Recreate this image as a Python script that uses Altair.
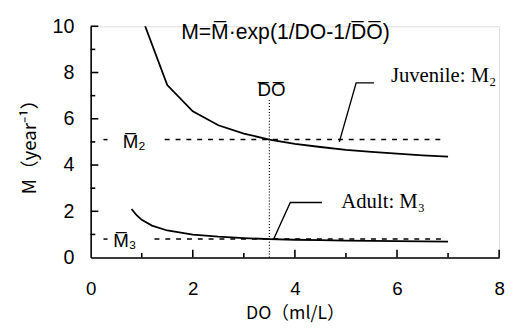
import altair as alt
import pandas as pd

# ---- data ----
do_juv = [1.0, 1.5, 2.0, 2.5, 3.0, 3.5, 4.0, 4.5, 5.0, 5.5, 6.0, 6.5, 7.0]
m_juv = [10.4, 7.46, 6.32, 5.72, 5.36, 5.10, 4.92, 4.78, 4.66, 4.57, 4.49, 4.42, 4.36]
do_adu = [0.8, 0.9, 1.0, 1.2, 1.5, 2.0, 2.5, 3.0, 3.5, 4.0, 4.5, 5.0, 5.5, 6.0, 6.5, 7.0]
m_adu = [2.10, 1.83, 1.63, 1.38, 1.17, 0.99, 0.90, 0.84, 0.80, 0.77, 0.75, 0.73, 0.72, 0.71, 0.70, 0.69]

m2_bar = 5.1
m3_bar = 0.8
do_bar = 3.5

x_ticks_major = [2, 4, 6, 8]
x_ticks_minor = [1, 3, 5, 7]
y_ticks_major = [2, 4, 6, 8, 10]
y_ticks_minor = [1, 3, 5, 7, 9]
x_labels = [0, 2, 4, 6, 8]
y_labels = [0, 2, 4, 6, 8, 10]

# ---- tables ----
curves = pd.DataFrame({
    "x": do_juv + do_adu,
    "y": m_juv + m_adu,
    "s": ["juv"] * len(do_juv) + ["adu"] * len(do_adu),
})
dashes = pd.DataFrame({
    "x": [0.25, 1.45, 0.25, 1.25],
    "x2": [0.33, 6.9, 0.33, 6.9],
    "y": [m2_bar, m2_bar, m3_bar, m3_bar],
})
vline = pd.DataFrame({"x": [do_bar], "y": [0], "y2": [6.8]})
leaders = pd.DataFrame({
    "x": [5.55, 5.2, 4.87, 4.53, 3.91, 3.58],
    "y": [7.55, 7.55, 5.0, 2.38, 2.38, 0.78],
    "s": ["j", "j", "j", "a", "a", "a"],
    "o": [0, 1, 2, 0, 1, 2],
})
xt = pd.DataFrame({"x": x_ticks_major + x_ticks_minor,
                   "y": [0] * 8, "y2": [0.34] * 4 + [0.2] * 4})
yt = pd.DataFrame({"y": y_ticks_major + y_ticks_minor,
                   "x": [0] * 10, "x2": [0.15] * 5 + [0.09] * 5})

eq_text = pd.DataFrame({
    "x": [3.815], "y": [9.72],
    "t": ["M=M\u0305\u00b7exp(1/DO-1/D\u0305O\u0305)"],
})
sans_text = pd.DataFrame({
    "x": [3.54, 0.85, 0.67],
    "y": [7.22, 5.0, 0.72],
    "t": ["D\u0305O\u0305", "M\u0305\u2082", "M\u0305\u2083"],
})
serif_text = pd.DataFrame({
    "x": [5.88, 4.91],
    "y": [7.85, 2.4],
    "t": ["Juvenile: M\u2082", "Adult: M\u2083"],
})

xscale = alt.Scale(domain=[0, 8], nice=False, zero=False)
yscale = alt.Scale(domain=[0, 10], nice=False, zero=False)
FONT = "Liberation Sans"
JFONT = "Noto Sans CJK JP"

xaxis = alt.Axis(values=x_labels, ticks=False, grid=False, domainColor="black",
                 domainWidth=1.6, labelFont=FONT, labelFontSize=19, labelColor="black",
                 labelPadding=23, labelFlush=False, title="DO\uff08ml/L\uff09", titleFont=JFONT,
                 titleFontSize=18, titleFontWeight="normal", titleColor="black",
                 titlePadding=6)
yaxis = alt.Axis(values=y_labels, ticks=False, grid=False, domainColor="black",
                 domainWidth=1.6, labelFont=FONT, labelFontSize=20, labelColor="black",
                 labelPadding=17, labelFlush=False, title="M\uff08year\u207b\u00b9\uff09",
                 titleFont=JFONT, titleFontSize=19, titleFontWeight="normal",
                 titleColor="black", titlePadding=13)


def X(f="x"):
    return alt.X(f"{f}:Q", scale=xscale, axis=xaxis)


def Y(f="y"):
    return alt.Y(f"{f}:Q", scale=yscale, axis=yaxis)


base_curves = alt.Chart(curves).mark_line(color="black", strokeWidth=1.8, clip=True).encode(
    x=X(), y=Y(), detail="s:N")
dash_layer = alt.Chart(dashes).mark_rule(color="black", strokeWidth=1.5, strokeDash=[5, 6]).encode(
    x=X(), x2="x2:Q", y=Y())
vline_layer = alt.Chart(vline).mark_rule(color="black", strokeWidth=1.2, strokeDash=[1, 2]).encode(
    x=X(), y=Y(), y2="y2:Q")
leader_layer = alt.Chart(leaders).mark_line(color="black", strokeWidth=1.4).encode(
    x=X(), y=Y(), detail="s:N", order="o:Q")
xt_layer = alt.Chart(xt).mark_rule(color="black", strokeWidth=1.6).encode(
    x=X(), y=Y(), y2="y2:Q")
yt_layer = alt.Chart(yt).mark_rule(color="black", strokeWidth=1.6).encode(
    x=X(), x2="x2:Q", y=Y())
eq_layer = alt.Chart(eq_text).mark_text(font=FONT, fontSize=21.5, color="black").encode(
    x=X(), y=Y(), text="t:N")
sans_layer = alt.Chart(sans_text).mark_text(font=FONT, fontSize=19, color="black").encode(
    x=X(), y=Y(), text="t:N")
serif_layer = alt.Chart(serif_text).mark_text(font="Liberation Serif", fontSize=21, color="black",
                                              align="left").encode(x=X(), y=Y(), text="t:N")

chart = alt.layer(base_curves, dash_layer, vline_layer, leader_layer, xt_layer, yt_layer,
                  eq_layer, sans_layer, serif_layer).properties(
    width=415, height=235,
    padding={"left": 84, "top": 16, "right": 8, "bottom": 68},
    autosize=alt.AutoSizeParams(type="none"),
).configure_view(stroke=None).configure(background="white")

chart.save("out.html", embed_options={"renderer": "svg", "actions": False})
